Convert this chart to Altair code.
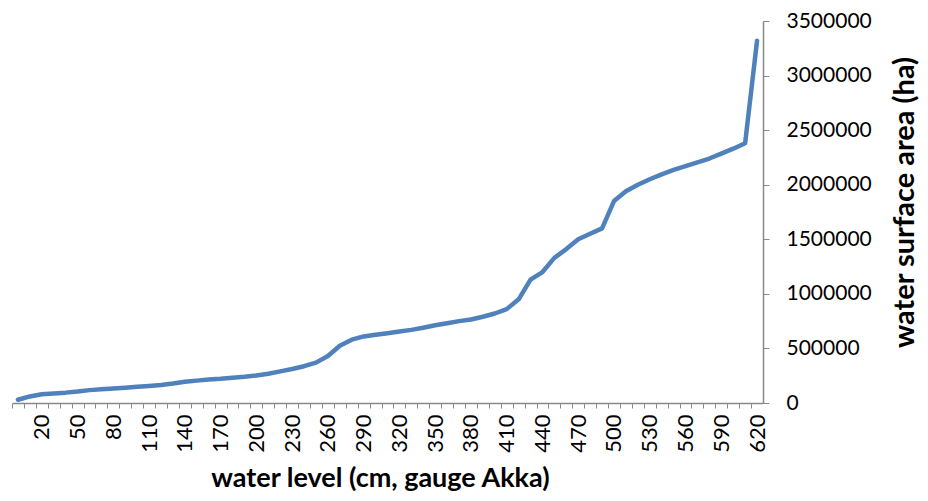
import altair as alt
import pandas as pd

levels = list(range(0, 630, 10))
areas = [
    30000, 60000, 80000, 88000, 95000, 105000, 118000, 125000, 133000, 140000,
    148000, 156000, 165000, 178000, 195000, 205000, 215000, 222000, 232000, 240000,
    252000, 268000, 290000, 312000, 337000, 370000, 430000, 525000, 580000, 610000,
    625000, 640000, 655000, 670000, 690000, 712000, 730000, 750000, 765000, 790000,
    820000, 860000, 950000, 1130000, 1200000, 1330000, 1410000, 1500000, 1550000, 1600000,
    1850000, 1940000, 2000000, 2050000, 2095000, 2135000, 2170000, 2205000, 2240000, 2285000,
    2330000, 2380000, 3320000,
]
y_ticks = [0, 500000, 1000000, 1500000, 2000000, 2500000, 3000000, 3500000]

df = pd.DataFrame({"level": levels, "area": areas})

W = 751
H = 382
half_band = W / len(levels) / 2
FONT = "Lato"

chart = (
    alt.Chart(df)
    .mark_line(color="#4F81BD", strokeWidth=4.5, strokeCap="round", strokeJoin="round")
    .encode(
        x=alt.X(
            "level:Q",
            scale=alt.Scale(domain=[-5, 625], nice=False, zero=False),
            axis=alt.Axis(
                values=levels,
                labelExpr="(datum.value - 20) % 30 == 0 ? datum.label : ''",
                labelAngle=270,
                labelFont=FONT,
                labelFontSize=22,
                labelColor="#000000",
                labelPadding=6,
                labelOverlap=False,
                tickOffset=-half_band,
                labelOffset=half_band,
                tickSize=5,
                tickColor="#888888",
                domainColor="#888888",
                domainWidth=1.5,
                grid=False,
                title="water level (cm, gauge Akka)",
                titleFont=FONT,
                titleFontSize=27,
                titleFontWeight="bold",
                titleColor="#000000",
                titleX=368,
                titleY=75,
                titleBaseline="middle",
            ),
        ),
        y=alt.Y(
            "area:Q",
            scale=alt.Scale(domain=[0, 3500000], nice=False),
            axis=alt.Axis(
                orient="right",
                values=y_ticks,
                format="d",
                labelFont=FONT,
                labelFontSize=21,
                labelColor="#000000",
                labelPadding=17,
                tickSize=6,
                tickColor="#888888",
                domainColor="#888888",
                domainWidth=1.5,
                grid=False,
                title="water surface area (ha)",
                titleFont=FONT,
                titleFontSize=29,
                titleFontWeight="bold",
                titleColor="#000000",
                titleAngle=270,
                titleX=141,
                titleY=181,
                titleBaseline="middle",
            ),
        ),
    )
    .properties(
        width=W,
        height=H,
        autosize=alt.AutoSizeParams(type="none"),
        padding={"left": 4, "top": 13, "right": 156, "bottom": 90},
    )
    .configure_view(stroke=None)
)

chart.save("out.html", embed_options={"renderer": "svg", "actions": False})
